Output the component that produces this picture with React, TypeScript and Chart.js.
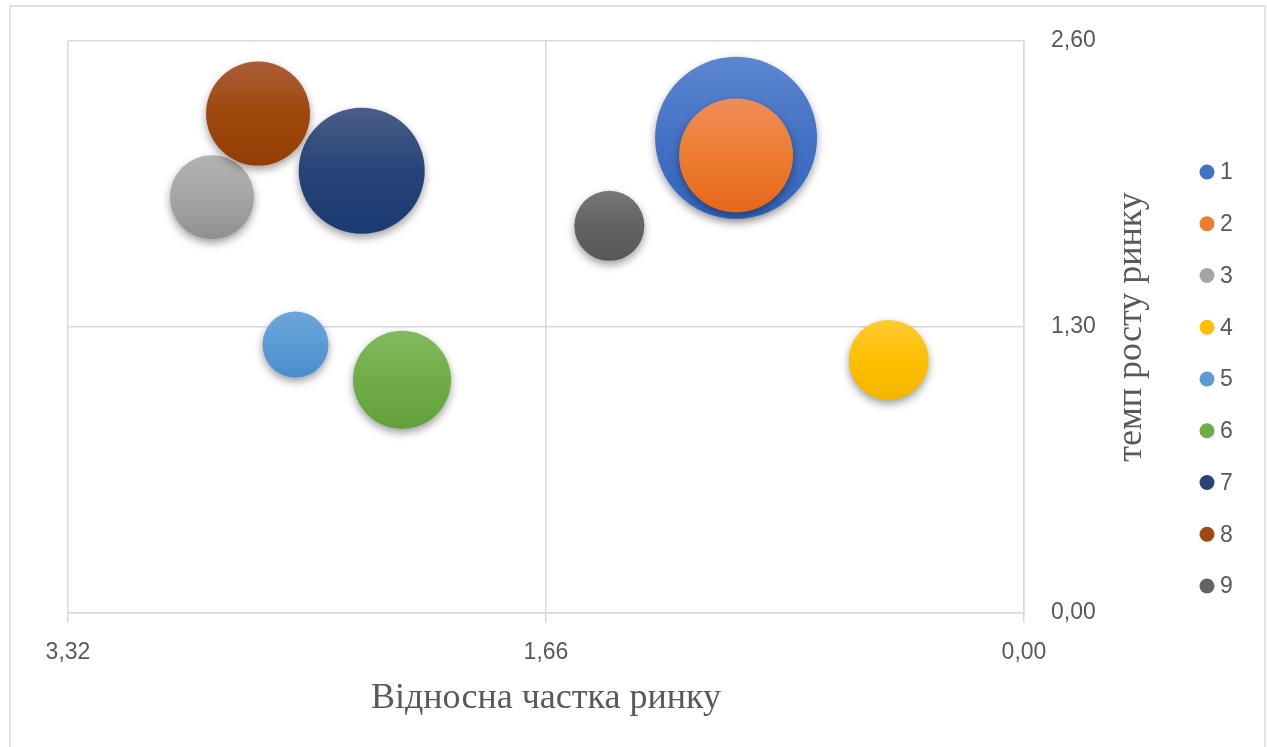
import React, { useEffect, useRef } from "react";
import { Chart, registerables } from "chart.js";

Chart.register(...registerables);

// ---- data ----
const labels = ["1", "2", "3", "4", "5", "6", "7", "8", "9"];
const relativeShare = [1.0, 1.0, 2.82, 0.47, 2.53, 2.16, 2.3, 2.66, 1.44];
const marketGrowth = [2.16, 2.08, 1.89, 1.15, 1.22, 1.06, 2.01, 2.27, 1.76];
const bubbleSize = [100, 49.5, 26.9, 24.4, 16.6, 36.6, 60.5, 41.2, 18.7];
const xTickValues = [0, 1.66, 3.32];
const yTickValues = [0, 1.3, 2.6];
const xTitle = "Відносна частка ринку";
const yTitle = "темп росту ринку";

// ---- styles ----
const baseColors = ["#4472C4", "#ED7D31", "#A5A5A5", "#FFC000", "#5B9BD5", "#70AD47", "#264478", "#9E480E", "#636363"];
const topColors = ["#5c86cf", "#ef8d57", "#b3b3b3", "#ffc933", "#6ca5da", "#82ba5e", "#4a5d88", "#aa5d36", "#777777"];
const bottomColors = ["#3366c0", "#e6661b", "#909090", "#f2b400", "#4a8bcc", "#62a13a", "#1b3a72", "#943d04", "#575757"];

const W = 1267;
const H = 747;
const PLOT_L = 68;
const PLOT_T = 41;
const PLOT_R = 1024;
const PLOT_B = 613;
const Y_AXIS_W = 100;
const MAX_R = 81;
const TEXT = "#595959";
const GRID = "#d9d9d9";
const TICK_FONT = { family: "'Liberation Sans', Arial, sans-serif", size: 23 };
const TITLE_FONT = "36px 'Liberation Serif', 'Times New Roman', serif";

const fmt = (v: number) => Number(v).toFixed(2).replace(".", ",");

const decorPlugin = {
  id: "decor",
  beforeDraw(chart: any) {
    const ctx = chart.ctx;
    ctx.save();
    ctx.strokeStyle = GRID;
    ctx.lineWidth = 1.5;
    ctx.beginPath();
    ctx.moveTo(10, H);
    ctx.lineTo(10, 6);
    ctx.lineTo(1265, 6);
    ctx.lineTo(1265, H);
    ctx.stroke();
    ctx.restore();
  },
  beforeDatasetsDraw(chart: any) {
    const ctx = chart.ctx;
    ctx.save();
    ctx.shadowColor = "rgba(0,0,0,0.38)";
    ctx.shadowBlur = 9;
    ctx.shadowOffsetX = 0;
    ctx.shadowOffsetY = 4;
  },
  afterDatasetsDraw(chart: any) {
    chart.ctx.restore();
  },
  afterDraw(chart: any) {
    const ctx = chart.ctx;
    const area = chart.chartArea;
    ctx.save();
    ctx.fillStyle = TEXT;
    ctx.font = TITLE_FONT;
    // x title
    ctx.textAlign = "center";
    ctx.textBaseline = "alphabetic";
    ctx.fillText(xTitle, (area.left + area.right) / 2, 708);
    // y title (reads bottom to top)
    ctx.save();
    ctx.translate(1141, (area.top + area.bottom) / 2);
    ctx.rotate(-Math.PI / 2);
    ctx.fillText(yTitle, 0, 0);
    ctx.restore();
    // legend
    const top = 172;
    const pitch = 51.75;
    ctx.textAlign = "left";
    ctx.textBaseline = "middle";
    ctx.font = `${TICK_FONT.size}px ${TICK_FONT.family}`;
    chart.data.datasets.forEach((ds: any, i: number) => {
      const y = top + i * pitch;
      ctx.beginPath();
      ctx.fillStyle = baseColors[i];
      ctx.arc(1207, y, 7.5, 0, Math.PI * 2);
      ctx.fill();
      ctx.fillStyle = TEXT;
      ctx.fillText(ds.label, 1220, y + 1);
    });
    ctx.restore();
  },
};

export default function App() {
  const ref = useRef<HTMLCanvasElement | null>(null);

  useEffect(() => {
    if (!ref.current) return;
    const maxSize = Math.max(...bubbleSize);
    const datasets = labels.map((lbl, i) => ({
      label: lbl,
      data: [
        {
          x: relativeShare[i],
          y: marketGrowth[i],
          r: MAX_R * Math.sqrt(bubbleSize[i] / maxSize),
        },
      ],
      order: labels.length - i,
      borderWidth: 0,
      hoverRadius: 0,
      backgroundColor: (c: any) => {
        const chart = c.chart;
        const raw = c.raw;
        if (!raw || !chart.chartArea || !chart.scales.y) return baseColors[i];
        const yp = chart.scales.y.getPixelForValue(raw.y);
        const g = chart.ctx.createLinearGradient(0, yp - raw.r, 0, yp + raw.r);
        g.addColorStop(0, topColors[i]);
        g.addColorStop(0.5, baseColors[i]);
        g.addColorStop(1, bottomColors[i]);
        return g;
      },
    }));

    const chart = new Chart(ref.current, {
      type: "bubble",
      data: { datasets },
      plugins: [decorPlugin],
      options: {
        responsive: false,
        animation: false,
        devicePixelRatio: 1,
        events: [],
        layout: {
          autoPadding: false,
          padding: { left: PLOT_L, top: PLOT_T, right: W - PLOT_R - Y_AXIS_W, bottom: 0 },
        },
        plugins: {
          legend: { display: false },
          tooltip: { enabled: false },
        },
        scales: {
          x: {
            type: "linear",
            position: "bottom",
            reverse: true,
            min: 0,
            max: 3.32,
            afterBuildTicks: (s: any) => {
              s.ticks = xTickValues.map((v) => ({ value: v }));
            },
            afterFit: (s: any) => {
              s.height = H - PLOT_B;
              s.paddingLeft = 0;
              s.paddingRight = 0;
            },
            grid: { color: GRID, lineWidth: 1.5, drawTicks: true, tickLength: 9, tickColor: GRID },
            border: { color: GRID, width: 1.5 },
            ticks: {
              color: TEXT,
              font: TICK_FONT,
              padding: 17,
              maxRotation: 0,
              autoSkip: false,
              callback: (v: any) => fmt(v),
            },
          },
          y: {
            type: "linear",
            position: "right",
            min: 0,
            max: 2.6,
            afterBuildTicks: (s: any) => {
              s.ticks = yTickValues.map((v) => ({ value: v }));
            },
            afterFit: (s: any) => {
              s.width = Y_AXIS_W;
              s.paddingTop = 0;
              s.paddingBottom = 0;
            },
            grid: { color: GRID, lineWidth: 1.5, drawTicks: false },
            border: { color: GRID, width: 1.5 },
            ticks: {
              color: TEXT,
              font: TICK_FONT,
              padding: 27,
              autoSkip: false,
              callback: (v: any) => fmt(v),
            },
          },
        },
      } as any,
    });
    return () => chart.destroy();
  }, []);

  return (
    <div style={{ position: "fixed", left: 0, top: 0, width: W, height: H, background: "#fff" }}>
      <canvas ref={ref} width={W} height={H} style={{ display: "block", width: W, height: H }} />
    </div>
  );
}
